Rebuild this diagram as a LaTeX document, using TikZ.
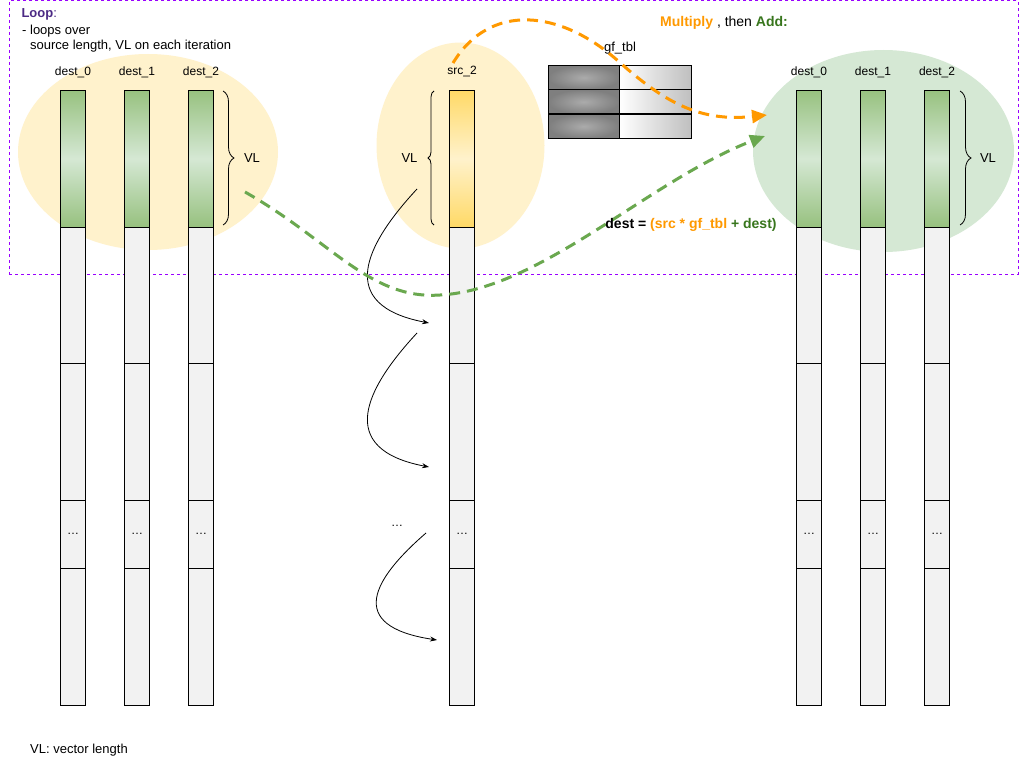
\documentclass[tikz,border=0pt]{standalone}
\usepackage{fontspec}
\setmainfont{Liberation Sans}
\usepackage{xcolor}
\usetikzlibrary{arrows.meta,positioning,shapes.geometric,decorations.pathreplacing}

\definecolor{vecgreen}{HTML}{97C17F}
\definecolor{softgreen}{HTML}{D5E8D4}
\definecolor{vecyellow}{HTML}{FFD966}
\definecolor{softyellow}{HTML}{FFF2CC}
\definecolor{cellgray}{HTML}{F2F2F2}
\definecolor{tblmid}{HTML}{ABABAB}
\definecolor{tbldark}{HTML}{7F7F7F}
\definecolor{tbllight}{HTML}{BFBFBF}
\definecolor{mulorange}{HTML}{FF9900}
\definecolor{addgreen}{HTML}{6AA84F}
\definecolor{darkgreen}{HTML}{38761D}
\definecolor{loopviolet}{HTML}{9900FF}
\definecolor{looptext}{HTML}{4C2A85}

\begin{document}
\begin{tikzpicture}[
    x=1pt, y=-1pt,
    font=\fontsize{12pt}{14pt}\selectfont,
    blob/.style={ellipse,draw=none,inner sep=0pt},
    loopframe/.style={draw=loopviolet,dash pattern=on 3pt off 3pt,line width=1pt,
                      minimum width=1009pt,minimum height=273pt,inner sep=0pt},
    vecseg/.style={draw,line width=1pt,fill=cellgray,minimum width=25pt,
                   minimum height=137pt,inner sep=0pt},
    vgreen/.style={vecseg,top color=vecgreen,bottom color=vecgreen,middle color=softgreen},
    vyellow/.style={vecseg,top color=vecyellow,bottom color=vecyellow,middle color=softyellow},
    tblmul/.style={draw,line width=1pt,minimum width=71pt,minimum height=24.3pt,
                   inner sep=0pt,inner color=tblmid,outer color=tbldark},
    tbladd/.style={draw,line width=1pt,minimum width=72pt,minimum height=24.3pt,
                   inner sep=0pt,left color=white,right color=tbllight},
    vlbrace/.style={decorate,line width=0.8pt},
    mularrow/.style={-{Triangle[length=15pt,width=13pt]},mulorange,line width=3pt,
                     dash pattern=on 11pt off 7pt},
    addarrow/.style={-{Triangle[length=15pt,width=13pt]},addgreen,line width=3pt,
                     dash pattern=on 11pt off 7pt},
    iterarrow/.style={-{Stealth[length=7pt,width=5pt]},line width=0.8pt},
    note/.style={font=\fontsize{13pt}{15pt}\selectfont},
    bigtext/.style={font=\fontsize{14pt}{16pt}\selectfont},
  ]
  \path[fill=white,use as bounding box] (0,0) rectangle (1024,768);

  % blobs behind the vectors
  \node[blob,fill=softyellow,minimum width=260pt,minimum height=196pt] (lblob) at (148,152) {};
  \node[blob,fill=softyellow,minimum width=168pt,minimum height=206pt] (sblob) at (460.5,145.5) {};
  \node[blob,fill=softgreen,minimum width=261pt,minimum height=202pt] (rblob) at (883.5,151) {};

  % loop frame
  \node[loopframe] (loopbox) at (513.9,137.5) {};

  % vectors: first segment is the VL chunk of one iteration
  \foreach \cx/\cn/\cv in {73/la/vgreen,137/lb/vgreen,201/lc/vgreen,462/sa/vyellow,
                           809/ra/vgreen,873/rb/vgreen,937/rc/vgreen}{
    \node[\cv] (\cn1) at (\cx,158.5) {};
    \node[vecseg] (\cn2) at (\cx,295.5) {};
    \node[vecseg] (\cn3) at (\cx,432) {};
    \node[vecseg,minimum height=68pt] (\cn4) at (\cx,534) {\ldots};
    \node[vecseg] (\cn5) at (\cx,636.5) {};
  }

  % vector names
  \node (lalabel) at (73,72) {dest\_0};
  \node (lblabel) at (137,72) {dest\_1};
  \node (lclabel) at (201,72) {dest\_2};
  \node (salabel) at (462,72) {src\_2};
  \node (ralabel) at (809,72) {dest\_0};
  \node (rblabel) at (873,72) {dest\_1};
  \node (rclabel) at (937,72) {dest\_2};

  % VL braces
  \draw[vlbrace,decoration={brace,amplitude=11pt}] (223,91) -- (223,225);
  \node[note] (lvl) at (252,158) {VL};
  \draw[vlbrace,decoration={brace,amplitude=6pt}] (434,225) -- (434,91);
  \node[note] (svl) at (409.5,158) {VL};
  \draw[vlbrace,decoration={brace,amplitude=11pt}] (960,91) -- (960,225);
  \node[note] (rvl) at (988,158) {VL};

  % gf_tbl
  \node[note] (tbllabel) at (620,48) {gf\_tbl};
  \foreach \r/\ry in {1/77.5,2/101.8,3/126.3}{
    \node[tblmul] (tm\r) at (583.7,\ry) {};
    \node[tbladd] (ta\r) at (655.2,\ry) {};
  }

  % iteration steps down the source
  \coordinate (it1s) at (417,189);
  \coordinate (it1e) at (429,323);
  \coordinate (it2s) at (417,333);
  \coordinate (it2e) at (429,467);
  \coordinate (it3s) at (426,533);
  \coordinate (it3e) at (437,640);
  \draw[iterarrow] (it1s) .. controls (365,245) and (335,305) .. (it1e);
  \draw[iterarrow] (it2s) .. controls (365,389) and (335,449) .. (it2e);
  \draw[iterarrow] (it3s) .. controls (374,578) and (344,626) .. (it3e);
  \node (itdots) at (397,526) {\ldots};

  % multiply, then add
  \coordinate (mulstart) at (453,63);
  \coordinate (mulend) at (767,115);
  \coordinate (addstart) at (245,192);
  \coordinate (addend) at (765,136);
  \draw[mularrow] (mulstart) .. controls (490,2) and (560,10) .. (617,60)
                            .. controls (665,103) and (700,122) .. (mulend);
  \draw[addarrow] (addstart) .. controls (330,240) and (370,300) .. (440,295)
                            .. controls (540,290) and (650,180) .. (addend);

  % texts
  \node[note,anchor=west,text=looptext] (looptitle) at (18,14) {\textbf{Loop}:};
  \node[note,anchor=west,inner sep=0pt] (loopnote1) at (22,31) {- loops over};
  \node[note,anchor=west,inner sep=0pt] (loopnote2) at (30,46) {source length, VL on each iteration};
  \node[bigtext] (multext) at (724,23)
    {\textbf{\color{mulorange}Multiply} , then \textbf{\color{darkgreen}Add:}};
  \node[bigtext] (formula) at (691,225)
    {\textbf{dest = \color{mulorange}(src * gf\_tbl \color{darkgreen}+ dest)}};
  \node[note,anchor=west,inner sep=0pt] (vlnote) at (30,750) {VL: vector length};
\end{tikzpicture}
\end{document}
